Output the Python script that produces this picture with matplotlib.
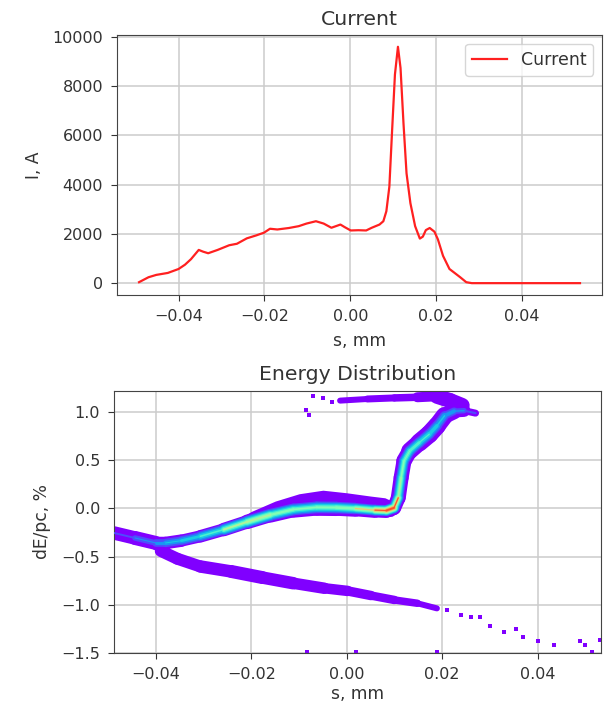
import matplotlib
matplotlib.use("Agg")
import matplotlib.pyplot as plt
from matplotlib.collections import LineCollection
import numpy as np

# current profile, s in mm, I in A
s_cur = [-0.0492, -0.047, -0.0452, -0.0425, -0.040, -0.0385, -0.0371, -0.0353, -0.0343,
         -0.0331, -0.0309, -0.0282, -0.0264, -0.0241, -0.0219, -0.0201, -0.0187, -0.0170,
         -0.0143, -0.0120, -0.0102, -0.0080, -0.0062, -0.0044, -0.0023, -0.0013, 0.0001,
         0.0019, 0.0037, 0.0050, 0.0068, 0.0077, 0.0084, 0.0091, 0.0097, 0.0104, 0.0111,
         0.0117, 0.0124, 0.0131, 0.0140, 0.0151, 0.0162, 0.0169, 0.0176, 0.0185, 0.0196,
         0.0204, 0.0216, 0.0231, 0.0243, 0.0256, 0.0270, 0.0283, 0.0400, 0.0535]
i_cur = [40, 240, 335, 415, 575, 750, 975, 1350, 1280,
         1215, 1350, 1540, 1600, 1820, 1940, 2050, 2210, 2180,
         2240, 2315, 2420, 2515, 2420, 2250, 2380, 2275, 2140,
         2150, 2140, 2250, 2380, 2515, 2920, 3920, 6065, 8475, 9600,
         8740, 6465, 4460, 3250, 2315, 1810, 1890, 2155, 2240, 2090,
         1780, 1110, 575, 415, 240, 40, 0, 0, 0]

# main branch of the energy distribution:
# centre line, halo width (px), core width (px), peak density
main_s = [-0.0488, -0.0444, -0.0400, -0.0380, -0.0347, -0.0307, -0.0258, -0.0209, -0.0160,
          -0.0112, -0.0063, -0.0022, 0.0018, 0.0059, 0.0083, 0.0099, 0.0108, 0.0114,
          0.0120, 0.0132, 0.0152, 0.0173, 0.0189, 0.0205, 0.0225, 0.0246, 0.0270]
main_e = [-0.254, -0.306, -0.358, -0.358, -0.334, -0.289, -0.219, -0.139, -0.066,
          -0.010, 0.012, 0.010, 0.000, -0.017, -0.021, 0.007, 0.111, 0.320,
          0.494, 0.598, 0.685, 0.772, 0.859, 0.963, 1.010, 1.016, 0.990]
main_w = [13, 14, 14, 13, 12, 12, 13, 14, 15, 16, 17, 17, 16, 15, 14, 14, 15, 15,
          15, 16, 18, 18, 18, 17, 15, 10, 4]
main_c = [5, 8, 11, 11, 11, 11, 12, 13, 13, 13, 13, 13, 12, 11, 11, 11, 11, 11,
          11, 12, 12, 12, 12, 11, 9, 6, 3]
main_d = [0.08, 0.15, 0.22, 0.27, 0.32, 0.38, 0.48, 0.7, 0.58, 0.52, 0.52, 0.55, 0.58, 0.78,
          0.95, 0.95, 0.62, 0.52, 0.52, 0.48, 0.45, 0.4, 0.35, 0.3, 0.25, 0.2, 0.1]

# sparse upper shoulder above the main branch
hump_s = [-0.0220, -0.0200, -0.0150, -0.0100, -0.0050, 0.0000, 0.0050, 0.0080, 0.0095, 0.0105]
hump_top = [-0.090, -0.030, 0.077, 0.153, 0.190, 0.163, 0.129, 0.111, 0.077, 0.000]
hump_bot = [-0.190, -0.170, -0.110, -0.070, -0.050, -0.060, -0.080, -0.090, -0.080, -0.050]

# lower (low energy) branch
low_s = [-0.0390, -0.0355, -0.0307, -0.0242, -0.0177, -0.0112, -0.0047, 0.0002,
         0.0051, 0.0100, 0.0148, 0.0189]
low_e = [-0.440, -0.522, -0.602, -0.654, -0.717, -0.776, -0.828, -0.856,
         -0.904, -0.950, -0.984, -1.037]
low_w = [12, 12, 12, 13, 13, 12, 11, 10, 9, 8, 7, 5]

# upper (high energy) branch
up_s = [-0.0014, 0.0043, 0.0100, 0.0148, 0.0189, 0.0217, 0.0242]
up_e = [1.120, 1.137, 1.148, 1.155, 1.165, 1.120, 1.070]
up_w = [5, 7, 7, 8, 12, 18, 12]

# isolated particles
dot_s = [-0.0070, -0.0050, -0.0085, -0.0080, -0.0030, 0.0000, 0.0210, 0.0240, 0.0260,
         0.0280, 0.0300, 0.0330, 0.0355, 0.0370, 0.0400, 0.0435, 0.0490, 0.0500, 0.0515,
         0.0530, -0.0083, 0.0020, 0.0190]
dot_e = [1.170, 1.150, 1.020, 0.970, 1.110, 1.130, -1.055, -1.110, -1.130, -1.130,
         -1.220, -1.280, -1.250, -1.330, -1.380, -1.420, -1.380, -1.420, -1.490,
         -1.370, -1.495, -1.495, -1.495]

cmap = plt.get_cmap("rainbow")
PX = 72.0 / 100  # px -> points


def band(ax, s, e, w, color, z):
    pts = np.column_stack([s, e])
    segs, lws = [], []
    for k in range(len(s) - 1):
        ww = (w[k] + w[k + 1]) / 2
        if ww > 0.3:
            segs.append([pts[k], pts[k + 1]])
            lws.append(ww * PX)
    if segs:
        ax.add_collection(LineCollection(segs, linewidths=lws, colors=[color],
                                         capstyle="round", joinstyle="round", zorder=z))


plt.rcParams["font.size"] = 11.5
plt.rcParams["axes.labelsize"] = 12.3
plt.rcParams["legend.fontsize"] = 12.5
plt.rcParams["text.color"] = "#333333"
plt.rcParams["axes.labelcolor"] = "#333333"
plt.rcParams["xtick.color"] = "#333333"
plt.rcParams["ytick.color"] = "#333333"
plt.rcParams["axes.edgecolor"] = "#444444"
plt.rcParams["xtick.major.size"] = 4.5
plt.rcParams["ytick.major.size"] = 4.5
plt.rcParams["xtick.major.pad"] = 5.5
plt.rcParams["ytick.major.pad"] = 5.5

fig = plt.figure(figsize=(6.05, 7.05), dpi=100)

# ---- current ----
ax1 = fig.add_axes([0.1934, 0.5816, 0.8017, 0.3688])
ax1.plot(s_cur, i_cur, color="#ff2020", lw=1.6, label="Current")
ax1.set_title("Current", fontsize=14.7, pad=7)
ax1.set_xlabel("s, mm", labelpad=6)
ax1.set_ylabel("I, A", labelpad=7)
ax1.set_yticks([0, 2000, 4000, 6000, 8000, 10000])
ax1.grid(True, color="#cccccc", lw=1.1)
ax1.legend(loc="upper right")

# ---- energy distribution ----
ax2 = fig.add_axes([0.1884, 0.0738, 0.8050, 0.3716])
halo = cmap(0.0)
ax2.fill_between(hump_s, hump_bot, hump_top, color=halo, lw=0, zorder=2)
band(ax2, main_s, main_e, main_w, halo, 2)
band(ax2, low_s, low_e, low_w, halo, 2)
band(ax2, up_s, up_e, up_w, halo, 2)
ax2.scatter(dot_s, dot_e, s=5, marker="s", color=halo, lw=0, zorder=2)

# density core, drawn as nested bands
levels = [0.1, 0.2, 0.3, 0.4, 0.5, 0.6, 0.7, 0.8, 0.9]
for n, lev in enumerate(levels):
    w = [c * max(0.0, 1 - lev / d) + (1.2 if d > lev else 0) for c, d in zip(main_c, main_d)]
    band(ax2, main_s, main_e, w, cmap(lev), 3 + n)

ax2.set_xlim(-0.0488, 0.0533)
ax2.set_ylim(-1.5, 1.22)
ax2.set_title("Energy Distribution", fontsize=14.7, pad=8)
ax2.set_xlabel("s, mm", labelpad=2)
ax2.set_ylabel("dE/pc, %", labelpad=7)
ax2.set_yticks([-1.5, -1.0, -0.5, 0.0, 0.5, 1.0])
ax2.grid(True, color="#cccccc", lw=1.1)
ax2.set_axisbelow(True)

plt.savefig("out.png", dpi=100)
